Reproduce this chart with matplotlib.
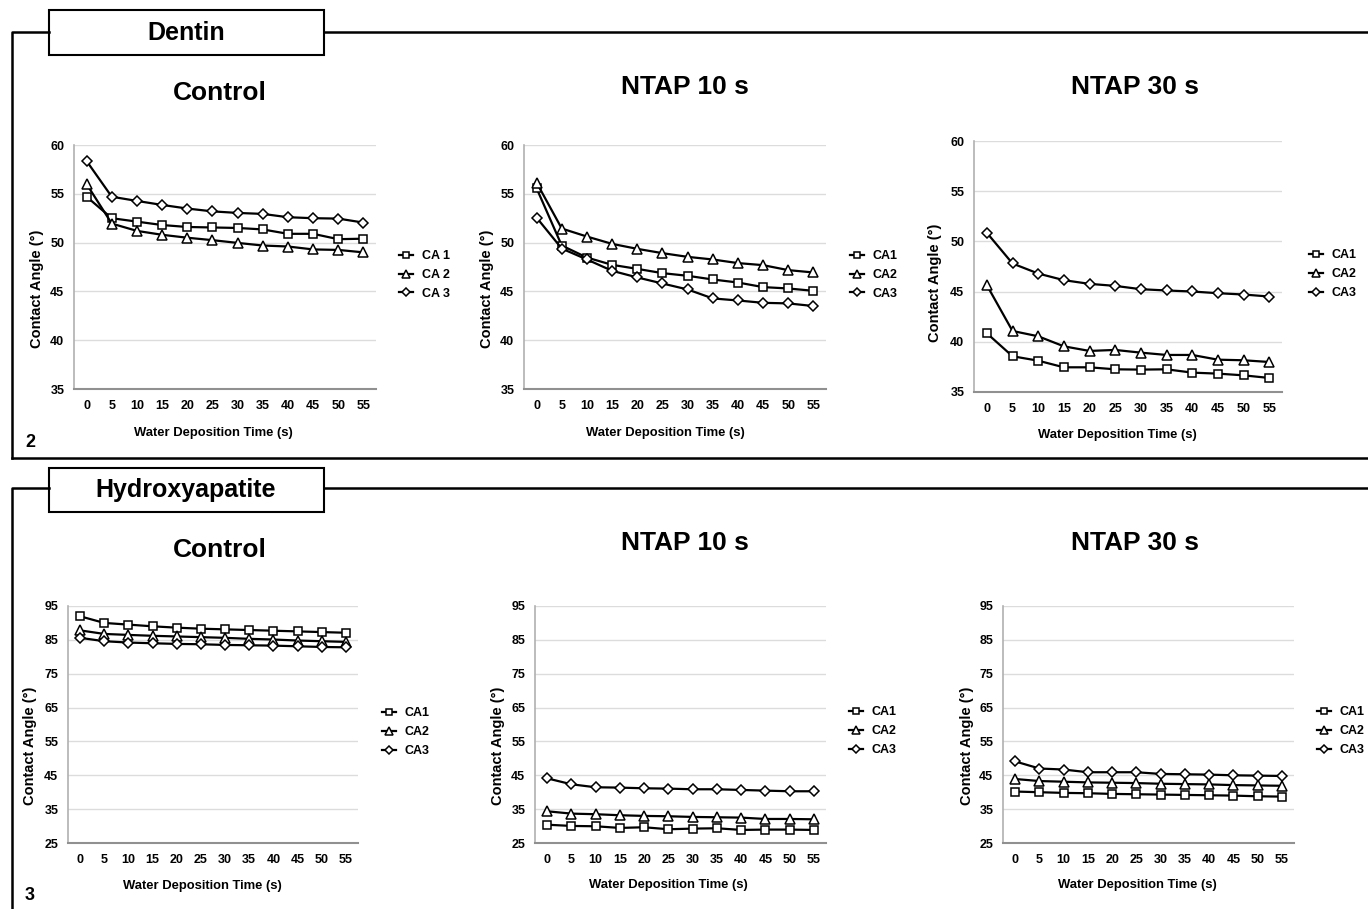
import numpy as np
import matplotlib
matplotlib.use("Agg")
import matplotlib.pyplot as plt
from matplotlib.lines import Line2D
from matplotlib.patches import Rectangle

plt.rcParams['font.family'] = ['Liberation Sans', 'DejaVu Sans']
plt.rcParams['font.weight'] = 'bold'

W, H = 1368, 909

# data: contact angle (deg) vs water deposition time
times = [0, 5, 10, 15, 20, 25, 30, 35, 40, 45, 50, 55]

dentin_control_ca1 = [54.7, 52.5, 52.15, 51.8, 51.6, 51.55, 51.5, 51.35, 50.9, 50.9, 50.35, 50.4]
dentin_control_ca2 = [56.0, 51.95, 51.2, 50.8, 50.5, 50.25, 49.97, 49.7, 49.6, 49.3, 49.25, 49.0]
dentin_control_ca3 = [58.36, 54.7, 54.27, 53.86, 53.49, 53.2, 53.04, 52.94, 52.6, 52.5, 52.46, 52.05]

dentin_10s_ca1 = [55.57, 49.7, 48.47, 47.72, 47.31, 46.87, 46.6, 46.22, 45.91, 45.44, 45.3, 45.06]
dentin_10s_ca2 = [56.15, 51.44, 50.62, 49.87, 49.36, 48.92, 48.54, 48.27, 47.9, 47.69, 47.18, 46.94]
dentin_10s_ca3 = [52.56, 49.39, 48.27, 47.11, 46.43, 45.81, 45.2, 44.28, 44.07, 43.83, 43.77, 43.5]

dentin_30s_ca1 = [40.85, 38.56, 38.12, 37.46, 37.46, 37.26, 37.23, 37.26, 36.93, 36.83, 36.66, 36.4]
dentin_30s_ca2 = [45.64, 41.08, 40.55, 39.55, 39.09, 39.19, 38.92, 38.69, 38.69, 38.22, 38.16, 37.99]
dentin_30s_ca3 = [50.86, 47.8, 46.8, 46.14, 45.77, 45.57, 45.24, 45.11, 45.01, 44.84, 44.71, 44.51]

ha_control_ca1 = [91.96, 90.0, 89.5, 89.0, 88.6, 88.3, 88.1, 87.9, 87.7, 87.5, 87.3, 87.1]
ha_control_ca2 = [87.8, 86.75, 86.46, 86.2, 86.0, 85.8, 85.6, 85.3, 85.1, 84.8, 84.6, 84.4]
ha_control_ca3 = [85.6, 84.6, 84.2, 84.0, 83.8, 83.7, 83.5, 83.4, 83.3, 83.1, 82.9, 82.8]

ha_10s_ca1 = [30.4, 30.04, 29.94, 29.45, 29.65, 29.06, 29.25, 29.35, 28.86, 28.96, 28.96, 28.86]
ha_10s_ca2 = [34.37, 33.68, 33.5, 33.2, 33.0, 32.9, 32.7, 32.6, 32.5, 32.1, 32.1, 32.0]
ha_10s_ca3 = [44.1, 42.34, 41.46, 41.36, 41.16, 41.06, 40.87, 40.87, 40.67, 40.47, 40.28, 40.28]

ha_30s_ca1 = [40.2, 40.0, 39.8, 39.7, 39.5, 39.4, 39.3, 39.2, 39.1, 39.0, 38.8, 38.7]
ha_30s_ca2 = [43.9, 43.3, 43.1, 42.9, 42.8, 42.7, 42.5, 42.4, 42.3, 42.1, 42.0, 41.9]
ha_30s_ca3 = [49.1, 47.0, 46.7, 45.9, 45.9, 45.9, 45.4, 45.3, 45.2, 45.0, 44.9, 44.8]

titles = ["Control", "NTAP 10 s", "NTAP 30 s"]
labels_spaced = ["CA 1", "CA 2", "CA 3"]
labels_plain = ["CA1", "CA2", "CA3"]

fig = plt.figure(figsize=(W / 100, H / 100), dpi=100)


def fx(x):
    return x / W


def fy(y):
    return 1 - y / H


def make_panel(box, series, labels, ylim, yticks, leg_xy, ylab_xy, xlab_xy):
    x0, y0, x1, y1 = box
    ax = fig.add_axes([fx(x0), fy(y1), (x1 - x0) / W, (y1 - y0) / H])
    idx = np.arange(len(times))
    markers = [('s', 6), ('^', 7), ('D', 5.5)]
    for vals, lab, (m, ms) in zip(series, labels, markers):
        ax.plot(idx, vals, color='black', lw=1.6, marker=m, ms=ms,
                mfc='white', mec='black', mew=1.1, label=lab, zorder=3)
    ax.set_xlim(-0.5, len(times) - 0.5)
    ax.set_ylim(*ylim)
    ax.set_yticks(yticks)
    ax.set_xticks(idx)
    ax.set_xticklabels([str(t) for t in times])
    ax.tick_params(length=0, labelsize=9, pad=8)
    ax.tick_params(axis='y', pad=7)
    for lab in ax.get_xticklabels() + ax.get_yticklabels():
        lab.set_fontweight('bold')
    ax.grid(axis='y', color='#dcdcdc', lw=1)
    ax.set_axisbelow(True)
    for s in ['top', 'right']:
        ax.spines[s].set_visible(False)
    ax.spines['left'].set_color('#b0b0b0')
    ax.spines['bottom'].set_color('#909090')
    ax.spines['left'].set_linewidth(1.2)
    ax.spines['bottom'].set_linewidth(1.5)
    ax.legend(loc='center left', bbox_to_anchor=(fx(leg_xy[0]), fy(leg_xy[1])),
              bbox_transform=fig.transFigure, frameon=False,
              handlelength=1.1, handletextpad=0.7, labelspacing=0.55,
              borderpad=0, borderaxespad=0, markerscale=0.75,
              prop={'weight': 'bold', 'size': 9})
    fig.text(fx(ylab_xy[0]), fy(ylab_xy[1]), "Contact Angle (°)", rotation=90,
             ha='center', va='center', fontsize=10.5, fontweight='bold')
    fig.text(fx(xlab_xy[0]), fy(xlab_xy[1]), "Water Deposition Time (s)",
             ha='center', va='center', fontsize=9.4, fontweight='bold')
    return ax


top_lim, top_ticks = (35, 60), [35, 40, 45, 50, 55, 60]
bot_lim, bot_ticks = (25, 95), [25, 35, 45, 55, 65, 75, 85, 95]

make_panel((74, 145, 376, 389), [dentin_control_ca1, dentin_control_ca2, dentin_control_ca3],
           labels_spaced, top_lim, top_ticks, (399, 275), (37, 289), (213, 433))
make_panel((524, 145, 826, 389), [dentin_10s_ca1, dentin_10s_ca2, dentin_10s_ca3],
           labels_plain, top_lim, top_ticks, (850, 275), (487, 289), (665, 433))
make_panel((974, 141, 1282, 392), [dentin_30s_ca1, dentin_30s_ca2, dentin_30s_ca3],
           labels_plain, top_lim, top_ticks, (1309, 274), (935, 283), (1117, 435))
make_panel((68, 606, 358, 843), [ha_control_ca1, ha_control_ca2, ha_control_ca3],
           labels_plain, bot_lim, bot_ticks, (382, 732), (30, 746), (202, 886))
make_panel((535, 606, 826, 843), [ha_10s_ca1, ha_10s_ca2, ha_10s_ca3],
           labels_plain, bot_lim, bot_ticks, (849, 731), (498, 746), (668, 885))
make_panel((1003, 606, 1294, 843), [ha_30s_ca1, ha_30s_ca2, ha_30s_ca3],
           labels_plain, bot_lim, bot_ticks, (1317, 731), (967, 746), (1137, 885))

# panel titles
for (x, y), t in zip([(220, 93), (685, 87), (1135, 87)], titles):
    fig.text(fx(x), fy(y), t, ha='center', va='center', fontsize=19, fontweight='bold')
for (x, y), t in zip([(220, 550), (685, 543), (1135, 543)], titles):
    fig.text(fx(x), fy(y), t, ha='center', va='center', fontsize=19, fontweight='bold')


# section frames
def frame_line(xs, ys, lw=1.8):
    fig.add_artist(Line2D([fx(x) for x in xs], [fy(y) for y in ys],
                          color='black', lw=lw, transform=fig.transFigure))


frame_line([12, 12, 49], [458, 32, 32])
frame_line([324, 1368], [32, 32])
frame_line([12, 1368], [458, 458])
frame_line([12, 12, 49], [909, 488, 488])
frame_line([324, 1368], [488, 488])

for (y0, y1), name in zip([(10, 55), (468, 512)], ["Dentin", "Hydroxyapatite"]):
    fig.add_artist(Rectangle((fx(49), fy(y1)), (324 - 49) / W, (y1 - y0) / H,
                             facecolor='white', edgecolor='black', lw=1.5,
                             transform=fig.transFigure))
    fig.text(fx(186), fy((y0 + y1) / 2), name, ha='center', va='center',
             fontsize=18, fontweight='bold')

fig.text(fx(30), fy(443), "2", ha='center', va='center', fontsize=13, fontweight='bold')
fig.text(fx(30), fy(896), "3", ha='center', va='center', fontsize=13, fontweight='bold')

fig.savefig("out.png", dpi=100)
